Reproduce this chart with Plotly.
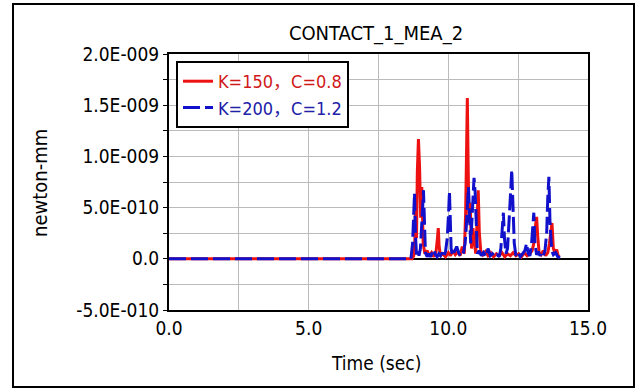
import plotly.graph_objects as go

# ---- data (y in units of 1e-10 newton-mm) ----
red_label = ("K=150", "，", "C=0.8")
blue_label = ("K=200", "，", "C=1.2")

red_t = [0.0, 8.70, 8.76, 8.80, 8.83, 8.86, 8.89, 8.93, 8.97, 9.01, 9.05, 9.10, 9.16, 9.24,
         9.32, 9.40, 9.48, 9.56, 9.61, 9.64, 9.67, 9.72, 9.80, 9.90, 10.00, 10.08, 10.16,
         10.25, 10.34, 10.42, 10.50, 10.57, 10.62, 10.65, 10.68, 10.71, 10.74, 10.78, 10.83,
         10.88, 10.93, 10.98, 11.03, 11.07, 11.11, 11.16, 11.24, 11.33, 11.42, 11.52, 11.62,
         11.72, 11.82, 11.92, 12.02, 12.12, 12.22, 12.32, 12.42, 12.52, 12.62, 12.72, 12.82,
         12.92, 13.00, 13.06, 13.11, 13.16, 13.20, 13.25, 13.32, 13.40, 13.48, 13.56, 13.62,
         13.67, 13.71, 13.76, 13.82, 13.88, 13.93, 13.98]
red_v_e10 = [0, 0, 0.3, 1.5, 6.1, 2.0, 8.5, 11.7, 9.0, 4.0, 7.0, 1.5, 0.5, 0.8,
             0.3, 0.6, 0.2, 0.7, 2.0, 3.0, 1.2, 0.3, 0.5, 0.2, 0.6, 0.3, 0.8,
             0.4, 0.7, 0.3, 1.2, 0.5, 4.5, 11.5, 15.7, 9.0, 3.5, 5.5, 1.0,
             3.0, 1.8, 0.5, 3.8, 6.7, 2.5, 0.8, 0.4, 0.7, 0.3, 0.6, 0.2,
             0.5, 0.3, 0.6, 0.2, 0.5, 0.3, 0.6, 0.3, 0.5, 0.2, 0.6, 0.3,
             0.5, 0.8, 1.5, 3.0, 4.1, 2.2, 0.6, 0.4, 0.8, 0.3, 0.6, 1.5,
             2.5, 3.5, 1.0, 0.6, 0.9, 0.3, 0.2]

blue_t = [0.0, 8.66, 8.72, 8.76, 8.79, 8.82, 8.86, 8.90, 8.95, 9.00, 9.05, 9.08, 9.11, 9.14,
          9.18, 9.24, 9.30, 9.36, 9.42, 9.48, 9.54, 9.60, 9.66, 9.72, 9.78, 9.84, 9.90, 9.96,
          10.01, 10.04, 10.07, 10.10, 10.15, 10.22, 10.30, 10.38, 10.46, 10.54, 10.60, 10.64,
          10.68, 10.72, 10.76, 10.80, 10.84, 10.88, 10.92, 10.96, 11.00, 11.04, 11.10, 11.18,
          11.26, 11.34, 11.42, 11.50, 11.58, 11.66, 11.74, 11.82, 11.88, 11.93, 11.97, 12.01,
          12.06, 12.12, 12.18, 12.23, 12.27, 12.31, 12.36, 12.42, 12.50, 12.58, 12.66, 12.74,
          12.80, 12.86, 12.92, 12.98, 13.02, 13.06, 13.10, 13.16, 13.22, 13.28, 13.34, 13.40,
          13.46, 13.52, 13.56, 13.60, 13.64, 13.70, 13.76, 13.84, 13.92, 14.00]
blue_v_e10 = [0, 0, 1.5, 4.0, 6.4, 2.5, 0.4, 0.8, 0.3, 1.0, 3.0, 5.0, 6.7, 3.5,
              0.6, 0.2, 0.5, 0.2, 0.6, 0.9, 0.4, 0.2, 0.5, 0.3, 0.6, 0.2, 0.7, 2.0,
              4.5, 6.6, 3.8, 1.0, 0.3, 0.7, 1.2, 0.5, 0.2, 0.6, 1.5, 3.0,
              5.2, 7.0, 4.0, 1.5, 3.5, 5.5, 7.9, 6.5, 2.0, 0.5, 0.8, 0.3,
              0.6, 0.2, 1.0, 0.3, 0.5, 0.2, 0.4, 0.2, 1.0, 3.5, 4.5, 2.0,
              0.5, 1.0, 3.5, 6.5, 8.7, 5.0, 1.5, 0.3, 0.6, 0.2, 0.5, 0.8,
              1.5, 0.5, 0.3, 1.5, 3.0, 4.5, 1.5, 0.4, 0.7, 0.3, 0.6, 0.3,
              0.8, 2.5, 6.0, 8.0, 3.5, 0.8, 0.4, 0.6, 0.2, 0.1]

x_tick_vals = [0.0, 2.5, 5.0, 7.5, 10.0, 12.5, 15.0]
x_tick_text = ["0.0", "", "5.0", "", "10.0", "", "15.0"]
y_tick_vals = [-5.0e-10, -2.5e-10, 0.0, 2.5e-10, 5.0e-10, 7.5e-10, 1.0e-9, 1.25e-9, 1.5e-9, 1.75e-9, 2.0e-9]
y_tick_text = ["-5.0E-010", "", "0.0", "", "5.0E-010", "", "1.0E-009", "", "1.5E-009", "", "2.0E-009"]

title_text = "CONTACT_1_MEA_2"
x_title = "Time (sec)"
y_title = "newton-mm"

E10 = 1e-10
red_v = [v * E10 for v in red_v_e10]
blue_v = [v * E10 for v in blue_v_e10]

FONT = "DejaVu Sans Condensed, Noto Sans CJK SC, sans-serif"
RED = "#ee1111"
BLUE = "#1111cc"


def legend_name(parts, color):
    a, comma, b = parts
    return ('<span style="color:%s">%s</span>'
            '<span style="color:%s;font-family:\'Noto Sans CJK SC\'">%s</span>'
            '<span style="color:%s">%s</span>') % (color, a, color, comma, color, b)


fig = go.Figure()
fig.add_trace(go.Scatter(
    x=red_t, y=red_v, mode="lines",
    name=legend_name(red_label, "#d01818"),
    line=dict(color=RED, width=3),
))
fig.add_trace(go.Scatter(
    x=blue_t, y=blue_v, mode="lines",
    name=legend_name(blue_label, "#2020a8"),
    line=dict(color=BLUE, width=3, dash="17px,5px"),
))

W, H = 636, 389
L, R, T, B = 169, 588, 54, 310


def px_x(p):
    return (p - L) / (R - L)


def px_y(p):
    return (B - p) / (B - T)


fig.update_layout(
    width=W, height=H,
    margin=dict(l=L, r=W - R, t=T, b=H - B),
    paper_bgcolor="white", plot_bgcolor="white",
    font=dict(family=FONT, size=19, color="black"),
    showlegend=True,
    legend=dict(
        x=px_x(176), y=px_y(61), xanchor="left", yanchor="top",
        bgcolor="white", bordercolor="black", borderwidth=2,
        font=dict(family=FONT, size=18),
        itemwidth=30, tracegroupgap=0,
    ),
    title=dict(text=title_text, x=px_x(376), xref="paper", xanchor="center",
               y=1 - 33 / H, yref="container", yanchor="middle",
               font=dict(family=FONT, size=20, color="black")),
    xaxis=dict(
        range=[0, 15], tickvals=x_tick_vals, ticktext=x_tick_text,
        showgrid=True, gridcolor="#bbbbbb", gridwidth=1,
        showline=True, linecolor="black", linewidth=2, mirror=True,
        ticks="", zeroline=False,
        tickfont=dict(family=FONT, size=19),
    ),
    yaxis=dict(
        range=[-5e-10, 2e-9], tickvals=y_tick_vals, ticktext=y_tick_text,
        showgrid=True, gridcolor="#bbbbbb", gridwidth=1,
        showline=True, linecolor="black", linewidth=2, mirror=True,
        ticks="outside", ticklen=4, tickcolor="black", tickwidth=1,
        zeroline=True, zerolinecolor="black", zerolinewidth=2,
        tickfont=dict(family=FONT, size=19),
    ),
    shapes=[dict(type="rect", xref="paper", yref="paper",
                 x0=px_x(13), x1=px_x(634), y0=px_y(387), y1=px_y(4),
                 line=dict(color="black", width=2), fillcolor="rgba(0,0,0,0)",
                 layer="below")],
    annotations=[
        dict(text=x_title, xref="paper", yref="paper", x=px_x(376), y=px_y(363),
             xanchor="center", yanchor="middle", showarrow=False,
             font=dict(family=FONT, size=19, color="black")),
        dict(text=y_title, xref="paper", yref="paper", x=px_x(40), y=px_y(183),
             xanchor="center", yanchor="middle", showarrow=False, textangle=-90,
             font=dict(family=FONT, size=20, color="black")),
    ],
)

fig.write_html("out.html")
